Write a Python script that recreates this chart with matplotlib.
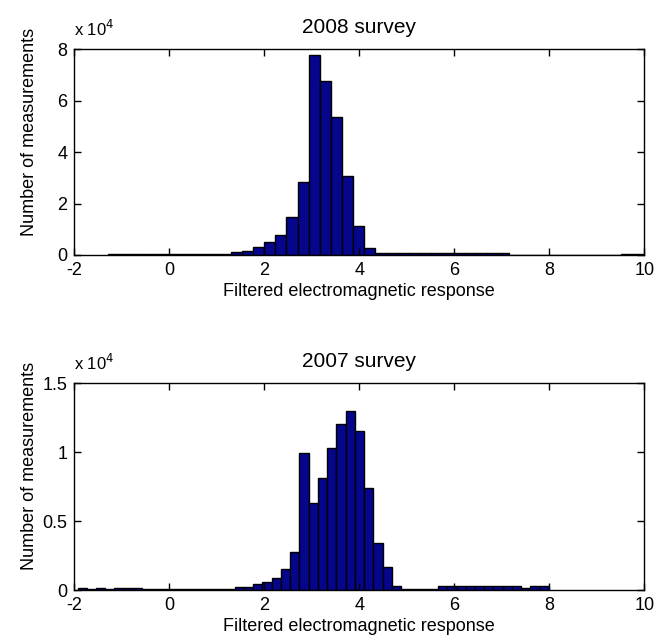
import numpy as np
import matplotlib
matplotlib.use("Agg")
import matplotlib.pyplot as plt
from matplotlib.ticker import FuncFormatter

plt.rcParams['font.family'] = ['Liberation Sans', 'DejaVu Sans']
plt.rcParams['axes.unicode_minus'] = False

# histogram bins (filtered EM response)
bins_2008_lo = -1.288
bins_2008_width = 0.2345
# counts per bin, 2008 survey
counts_2008 = [
    500, 500, 500, 500, 500, 500, 500, 500, 500, 500, 500,
    1200, 1400, 3000, 5200, 7900, 14900, 28500,
    77800, 67800, 53600, 30700, 11400, 2600,
    600, 600, 600, 600, 600, 600, 600, 600, 600, 600, 600, 600,
    0, 0, 0, 0, 0, 0, 0, 0, 0, 0,
    500, 500,
]

bins_2007_lo = -1.933
bins_2007_width = 0.1946
# counts per bin, 2007 survey
counts_2007 = [
    120, 40, 120, 40, 120, 120, 120, 40, 100, 100,
    80, 80, 80, 80, 80, 80, 80,
    190, 190, 440, 580, 900, 1520, 2730,
    9920, 6340, 8100, 10330, 12050, 13000, 11540, 7430, 3390, 1650, 290,
    80, 80, 80, 80,
    300, 300, 300, 300, 300, 300, 300, 300, 300,
    120, 300, 300,
]

panels = [
    ("2008 survey", bins_2008_lo, bins_2008_width, counts_2008, [0, 2, 4, 6, 8], 8),
    ("2007 survey", bins_2007_lo, bins_2007_width, counts_2007, [0, 0.5, 1, 1.5], 1.5),
]
xticks = [-2, 0, 2, 4, 6, 8, 10]
bar_color = '#06068C'

fig = plt.figure(figsize=(6.66, 6.4), dpi=100)
axes_pos = [[0.1116, 0.6016, 0.8559, 0.3214], [0.1116, 0.0781, 0.8559, 0.3230]]

for pos, (title, lo, w, counts, yticks, ymax) in zip(axes_pos, panels):
    ax = fig.add_axes(pos)
    counts = np.array(counts, dtype=float)
    edges = lo + w * np.arange(len(counts) + 1)
    ax.bar(edges[:-1], counts, width=w, align='edge', color=bar_color,
           edgecolor='black', linewidth=1.0)
    ax.set_xlim(-2, 10)
    ax.set_ylim(0, ymax * 1e4)
    ax.set_xticks(xticks)
    ax.set_yticks([t * 1e4 for t in yticks])
    ax.yaxis.set_major_formatter(FuncFormatter(lambda v, p: '%g' % (v / 1e4)))
    ax.tick_params(direction='in', top=True, right=True, length=5, width=1,
                   labelsize=13, pad=5)
    for s in ax.spines.values():
        s.set_linewidth(1.0)
    ax.set_title(title, fontsize=15, pad=12)
    ax.set_xlabel("Filtered electromagnetic response", fontsize=13, labelpad=3)
    ax.set_ylabel("Number of measurements", fontsize=13)
    ax.yaxis.set_label_coords(-0.064, 0.6)
    ax.text(0.0, 1.063, r'x 10$^{4}$', transform=ax.transAxes,
            fontsize=12, va='baseline', ha='left')

fig.savefig("out.png", dpi=100)
